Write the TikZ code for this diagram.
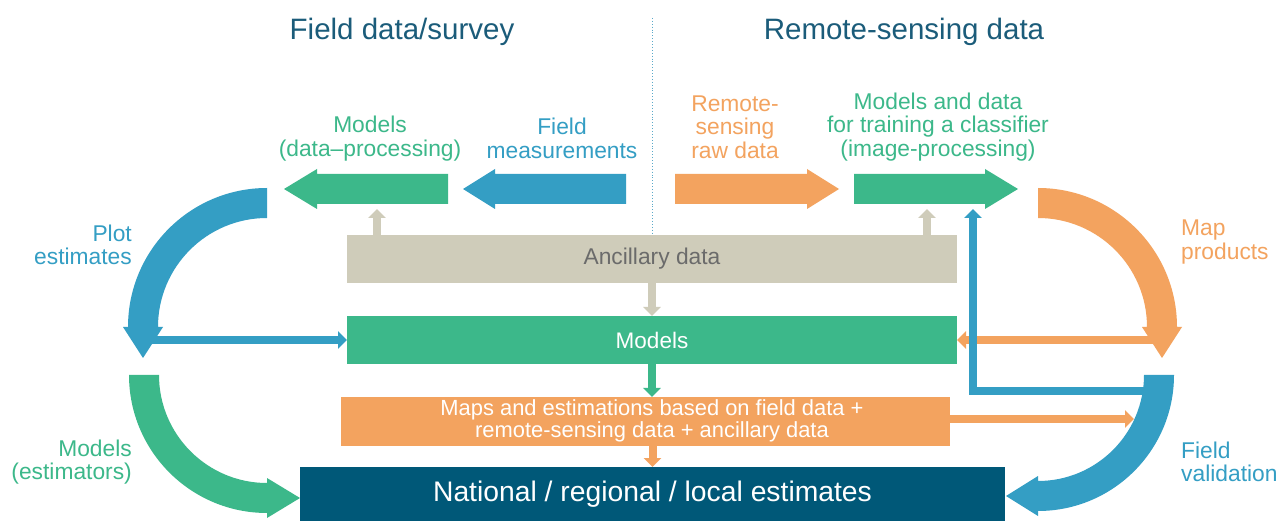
\documentclass[tikz,border=0pt]{standalone}
\usepackage{fontspec}
\setmainfont{Liberation Sans}
\usetikzlibrary{arrows.meta}
\definecolor{cgreen}{HTML}{3CB88A}
\definecolor{cblue}{HTML}{349EC4}
\definecolor{corange}{HTML}{F3A35F}
\definecolor{cbeige}{HTML}{CFCCBA}
\definecolor{cnavy}{HTML}{005878}
\definecolor{cgraytext}{HTML}{6B6B6B}
\definecolor{ctitle}{HTML}{1B5C7A}
\definecolor{cdot}{HTML}{5AA9C9}
\tikzset{
  box/.style={draw=none, inner sep=0pt, outer sep=0pt},
  thinarr/.style={line width=8pt, -{Triangle[width=17pt,length=9pt]}},
  lbl/.style={inner sep=0pt, font=\fontsize{22.8}{23.5}\selectfont},
  ttl/.style={inner sep=0pt, font=\fontsize{29.5}{32}\selectfont, text=ctitle},
}
\begin{document}
\begin{tikzpicture}[x=1pt,y=1pt,yscale=-1]
\useasboundingbox (0,0) rectangle (1278,521);
\fill[white] (0,0) rectangle (1278,521);

% titles and divider
\node[ttl] (t1) at (402,32) {Field data/survey};
\node[ttl] (t2) at (904,32) {Remote-sensing data};
\coordinate (dtop) at (652,18);
\coordinate (dbot) at (652,235);
\draw[cdot, line width=0.9pt, dotted] (dtop) -- (dbot);

% top labels
\node[lbl, text=cgreen, align=center] (lmod) at (370,138.5) {Models\\(data–processing)};
\node[lbl, text=cblue, align=center] (lfield) at (562,138.5) {Field\\measurements};
\node[lbl, text=corange, align=center] (lraw) at (735,127) {Remote-\\sensing\\raw data};
\node[lbl, text=cgreen, align=center] (lclass) at (938,127) {Models and data\\for training a classifier\\(image-processing)};

% top block arrows
\fill[cgreen] (448,174) -- (317,174) -- (317,169) -- (284,189) -- (317,209) -- (317,204) -- (448,204) -- cycle;
\fill[cblue] (626,174) -- (495,174) -- (495,169) -- (463,189) -- (495,209) -- (495,204) -- (626,204) -- cycle;
\fill[corange] (675,174) -- (807,174) -- (807,169) -- (839,189) -- (807,209) -- (807,204) -- (675,204) -- cycle;
\fill[cgreen] (854,174) -- (985,174) -- (985,169) -- (1018,189) -- (985,209) -- (985,204) -- (854,204) -- cycle;

% boxes
\node[box, fill=cbeige, minimum width=610pt, minimum height=48pt, text=cgraytext, font=\fontsize{22.8}{24}\selectfont] (anc) at (652,259) {Ancillary data};
\node[box, fill=cgreen, minimum width=610pt, minimum height=48pt, text=white, font=\fontsize{22.5}{24}\selectfont] (models) at (652,340) {Models};
\node[box, fill=corange, minimum width=609pt, minimum height=49pt] (maps) at (645.5,421.5) {};
\node[inner sep=0pt, text=white, align=center, font=\fontsize{21.9}{22}\selectfont] (mapstxt) at (652,421) {Maps and estimations based on field data +\\remote-sensing data + ancillary data};
\node[box, fill=cnavy, minimum width=705pt, minimum height=54pt, text=white, font=\fontsize{28.3}{30}\selectfont] (nat) at (652.5,494) {National / regional / local estimates};

% big curved arrows
\fill[cblue] (267,188) arc[start angle=-90, end angle=-180, radius=139] -- (123,327) -- (143,358) -- (163,327) -- (158,327) arc[start angle=180, end angle=270, radius=109] -- cycle;
\fill[cgreen] (129,375) arc[start angle=180, end angle=90, radius=138] -- (267,518) -- (300,498) -- (267,478) -- (267,483) arc[start angle=90, end angle=180, radius=108] -- cycle;
\fill[corange] (1038,188) arc[start angle=-90, end angle=0, radius=139] -- (1182,327) -- (1162,358) -- (1142,327) -- (1147,327) arc[start angle=0, end angle=-90, radius=109] -- cycle;
\fill[cblue] (1174,375) arc[start angle=0, end angle=90, radius=136] -- (1038,516) -- (1006,496) -- (1038,476) -- (1038,481) arc[start angle=90, end angle=0, radius=106] -- cycle;

% side labels
\node[lbl, text=cblue, align=right, anchor=east] (lplot) at (132,245) {Plot\\estimates};
\node[lbl, text=cgreen, align=right, anchor=east] (lest) at (132,462) {Models\\(estimators)};
\node[lbl, text=corange, align=left, anchor=west] (lmap) at (1181,242) {Map\\products};
\node[lbl, text=cblue, align=left, anchor=west] (lval) at (1181,462) {Field\\validation};

% small connectors
\coordinate (ancup1) at (377,235);
\coordinate (tgt1) at (377,209);
\coordinate (ancup2) at (927,235);
\coordinate (tgt2) at (927,209);
\draw[thinarr, cbeige] (ancup1) -- (tgt1);
\draw[thinarr, cbeige] (ancup2) -- (tgt2);
\draw[thinarr, cbeige] (anc.south) -- (models.north);
\draw[thinarr, cgreen] (models.south) -- (maps.north -| models.south);
\draw[thinarr, corange] (maps.south -| nat.north) -- (nat.north);

\coordinate (plotend) at (146,340);
\draw[thinarr, cblue] (plotend) -- (models.west);
\coordinate (mapend) at (1160,340);
\draw[thinarr, corange] (mapend) -- (models.east);
\coordinate (valend) at (1134,419);
\draw[thinarr, corange] (maps.east |- valend) -- (valend);
\coordinate (valstart) at (1150,391);
\coordinate (clstgt) at (973,209);
\draw[thinarr, cblue] (valstart) -- (clstgt |- valstart) -- (clstgt);
\end{tikzpicture}
\end{document}
